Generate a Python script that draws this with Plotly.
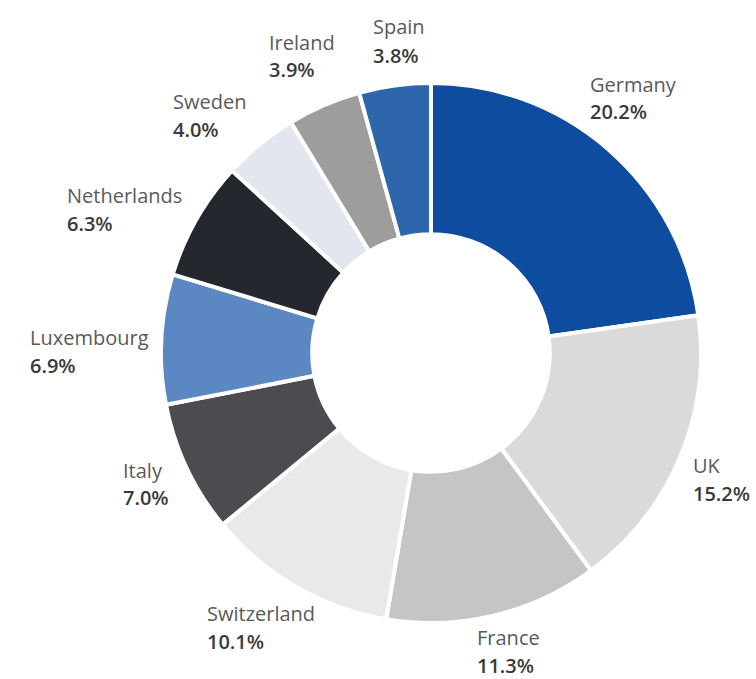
import plotly.graph_objects as go

# Share of total by country (percent)
countries = ["Germany", "UK", "France", "Switzerland", "Italy",
             "Luxembourg", "Netherlands", "Sweden", "Ireland", "Spain"]
shares = [20.2, 15.2, 11.3, 10.1, 7.0, 6.9, 6.3, 4.0, 3.9, 3.8]
colors = ["#0d4c9e", "#dadada", "#c5c5c5", "#e9e9e9", "#4b4b50",
          "#5b87c2", "#25272e", "#e3e6ef", "#9d9d9d", "#2e66ac"]

# Label anchor points in pixels (left edge, centre of the name line)
label_pos = [(588, 84), (691, 465), (475, 637), (205, 613), (121, 470),
             (28, 337), (65, 196), (171, 101), (267, 42), (371, 27)]

W, H = 756, 679
LINE_GAP = 28

fig = go.Figure(go.Pie(
    labels=countries,
    values=shares,
    sort=False,
    direction="clockwise",
    rotation=0,
    hole=0.44,
    textinfo="none",
    hoverinfo="label+percent",
    marker=dict(colors=colors, line=dict(color="white", width=4)),
    domain=dict(x=[161 / W, 701 / W], y=[1 - 623 / H, 1 - 83 / H]),
))

annotations = []
for name, val, (px, py) in zip(countries, shares, label_pos):
    annotations.append(dict(
        x=px / W, y=1 - py / H, xref="paper", yref="paper",
        xanchor="left", yanchor="middle", showarrow=False,
        text=name, font=dict(family="Open Sans", size=20, color="#5a5a5a"),
    ))
    annotations.append(dict(
        x=px / W, y=1 - (py + LINE_GAP) / H, xref="paper", yref="paper",
        xanchor="left", yanchor="middle", showarrow=False,
        text=f"{val:.1f}%",
        font=dict(family="Open Sans", size=20, color="#3a3a3a", weight=600),
    ))

fig.update_layout(
    width=W, height=H,
    margin=dict(l=0, r=0, t=0, b=0),
    paper_bgcolor="white", plot_bgcolor="white",
    showlegend=False,
    annotations=annotations,
)

fig.write_html("out.html")
